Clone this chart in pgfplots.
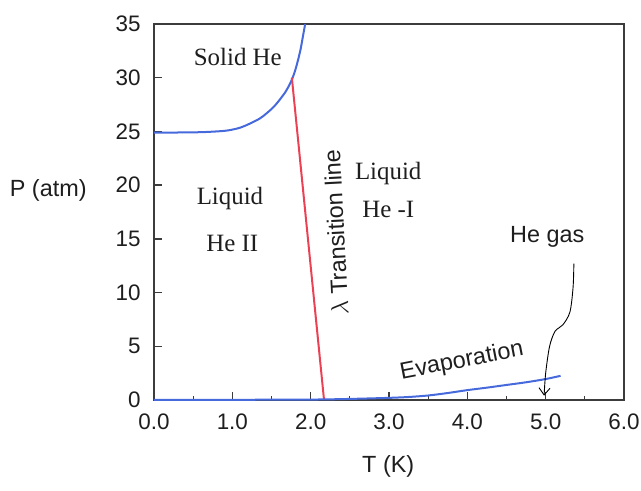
\documentclass[border=0pt]{standalone}
\usepackage{fontspec}
\setmainfont{Liberation Serif}
\setsansfont{Liberation Sans}
\usepackage{pgfplots}
\pgfplotsset{compat=1.18}
\usetikzlibrary{arrows.meta}
\definecolor{hblue}{RGB}{70,105,220}
\definecolor{hred}{RGB}{235,65,85}
\definecolor{axgray}{RGB}{60,60,60}
\definecolor{txt}{RGB}{30,30,30}
\newcommand{\tickf}{\fontsize{22.5}{26}\selectfont}
\newcommand{\sanf}{\fontsize{23.5}{27}\selectfont}
\newcommand{\serf}{\fontsize{25}{29}\selectfont}
\begin{document}
\begin{tikzpicture}
\useasboundingbox (-154bp,-91bp) rectangle (487bp,400bp);
\begin{axis}[
  scale only axis, width=470bp, height=376bp,
  xmin=0, xmax=6, ymin=0, ymax=35,
  clip=false,
  axis line style={axgray, line width=1.3bp},
  tick pos=left, tick align=inside,
  xtick={0,1,2,3,4,5,6}, minor xtick={0.5,1.5,2.5,3.5,4.5,5.5},
  ytick={0,5,10,15,20,25,30,35},
  major tick length=8bp, minor tick length=4bp,
  tick style={axgray, line width=1.3bp},
  /pgf/number format/assume math mode=true,
  ticklabel style={font=\sffamily\tickf, text=txt},
  x tick label style={/pgf/number format/.cd, fixed, fixed zerofill, precision=1, /tikz/.cd, yshift=-10bp},
  y tick label style={xshift=-10bp},
]
% melting curve
\addplot[hblue, line width=2bp, smooth] coordinates {
 (0,24.9) (0.3,24.9) (0.6,24.93) (0.8,25.0) (0.95,25.1) (1.1,25.35) (1.23,25.75) (1.35,26.2) (1.44,26.7) (1.53,27.3) (1.61,28.0) (1.68,28.7) (1.74,29.5) (1.79,30.4) (1.83,31.4) (1.87,32.6) (1.9,33.8) (1.93,35)
};
% lambda line
\addplot[hred, line width=2bp] coordinates {(1.76,30) (2.17,0.05)};
% evaporation curve
\addplot[hblue, line width=2bp, smooth] coordinates {
 (0,0.02) (1,0.02) (2,0.04) (2.5,0.1) (3,0.2) (3.25,0.28) (3.5,0.42) (3.75,0.65) (4,0.92) (4.25,1.15) (4.5,1.4) (4.75,1.65) (5.0,1.95) (5.19,2.25)
};
% arrow
\addplot[black, line width=0.9bp, smooth, -{Straight Barb[length=7bp,width=11bp]}] coordinates {
 (5.36,12.7) (5.35,10.5) (5.31,8.2) (5.22,7.0) (5.12,6.4) (5.05,5.0) (5.0,2.5) (4.98,0.4)
};
\node[font=\serf, text=txt] at (axis cs:1.07,31.9) {Solid He};
\node[font=\serf, text=txt] at (axis cs:0.97,18.8) {Liquid};
\node[font=\serf, text=txt] at (axis cs:1.0,14.6) {He II};
\node[font=\serf, text=txt] at (axis cs:2.99,21.1) {Liquid};
\node[font=\serf, text=txt] at (axis cs:2.99,17.7) {He -I};
\node[font=\sffamily\sanf, text=txt, rotate=93] at (axis cs:2.32,15.6) {$\lambda$ Transition line};
\node[font=\sffamily\sanf, text=txt, rotate=11] at (axis cs:3.93,3.6) {Evaporation};
\node[font=\sffamily\sanf, text=txt] at (axis cs:5.02,15.2) {He gas};
\node[font=\sffamily\sanf, text=txt] at (axis cs:2.99,-6.2) {T (K)};
\node[font=\sffamily\sanf, text=txt] at (axis cs:-1.35,19.5) {P (atm)};
\end{axis}
\end{tikzpicture}
\end{document}
